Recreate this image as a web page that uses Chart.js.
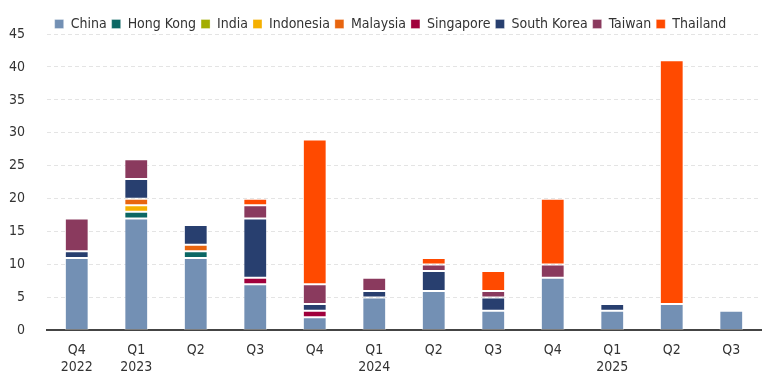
<!DOCTYPE html>
<html>
<head>
<meta charset="utf-8">
<script src="https://cdn.jsdelivr.net/npm/chart.js@4"></script>
<style>
  html, body { margin: 0; padding: 0; background: #fff; }
  #wrap { width: 767px; height: 385px; }
</style>
</head>
<body>
<div id="wrap"><canvas id="chart"></canvas></div>
<script>
// Quarters (tick labels, year shown on second line)
const quarters = [
    ["Q4", "2022"], ["Q1", "2023"], "Q2", "Q3", "Q4",
    ["Q1", "2024"], "Q2", "Q3", "Q4",
    ["Q1", "2025"], "Q2", "Q3"
];

// Counts per market, per quarter
const china      = [11, 17, 11, 7, 2, 5, 6, 3, 8, 3, 4, 3];
const hongKong   = [0, 1, 1, 0, 0, 0, 0, 0, 0, 0, 0, 0];
const india      = [0, 0, 0, 0, 0, 0, 0, 0, 0, 0, 0, 0];
const indonesia  = [0, 1, 0, 0, 0, 0, 0, 0, 0, 0, 0, 0];
const malaysia   = [0, 1, 1, 0, 0, 0, 0, 0, 0, 0, 0, 0];
const singapore  = [0, 0, 0, 1, 1, 0, 0, 0, 0, 0, 0, 0];
const southKorea = [1, 3, 3, 9, 1, 1, 3, 2, 0, 1, 0, 0];
const taiwan     = [5, 3, 0, 2, 3, 2, 1, 1, 2, 0, 0, 0];
const thailand   = [0, 0, 0, 1, 22, 0, 1, 3, 10, 0, 37, 0];

const yTicks = [0, 5, 10, 15, 20, 25, 30, 35, 40, 45];

const FONT = "'Liberation Sans Narrow', 'Arial Narrow', 'DejaVu Sans Condensed', sans-serif";

function series(label, data, color) {
    return {
        label: label,
        data: data,
        backgroundColor: color,
        borderColor: "rgba(255,255,255,0.3)",
        borderWidth: 1,
        borderSkipped: false,
        barPercentage: 0.4,
        categoryPercentage: 1.0,
    };
}

// tighten the gap under the legend and nudge it right
const legendTweak = {
    id: "legendTweak",
    beforeInit(chart) {
        const fit = chart.legend.fit;
        chart.legend.fit = function () {
            fit.bind(chart.legend)();
            this.height -= 7;
        };
    },
    afterLayout(chart) {
        chart.legend.left += 10;
        chart.legend.right += 10;
    },
};

document.addEventListener("DOMContentLoaded", () => {
    const ctx = document.getElementById("chart").getContext("2d");
    new Chart(ctx, {
        type: "bar",
        data: {
            labels: quarters,
            datasets: [
                series("China", china, "#7390b4"),
                series("Hong Kong", hongKong, "#0b6764"),
                series("India", india, "#a3ad00"),
                series("Indonesia", indonesia, "#f5b000"),
                series("Malaysia", malaysia, "#e8650f"),
                series("Singapore", singapore, "#a0003c"),
                series("South Korea", southKorea, "#283f6f"),
                series("Taiwan", taiwan, "#8a3a5e"),
                series("Thailand", thailand, "#ff4a00"),
            ],
        },
        plugins: [legendTweak],
        options: {
            responsive: true,
            maintainAspectRatio: false,
            animation: false,
            layout: { padding: { left: 0, right: 6, top: 12, bottom: -3 } },
            plugins: {
                legend: {
                    position: "top",
                    labels: {
                        boxWidth: 9,
                        boxHeight: 9,
                        padding: 5,
                        color: "#333",
                        font: { family: FONT, size: 14 },
                    },
                },
                tooltip: { enabled: false },
            },
            scales: {
                x: {
                    stacked: true,
                    grid: { display: false, drawTicks: false },
                    border: { display: true, color: "#444", width: 2 },
                    ticks: {
                        color: "#333",
                        padding: 12,
                        maxRotation: 0,
                        font: { family: FONT, size: 14 },
                    },
                },
                y: {
                    stacked: true,
                    min: yTicks[0],
                    max: yTicks[yTicks.length - 1],
                    afterBuildTicks: axis => {
                        axis.ticks = yTicks.map(v => ({ value: v }));
                    },
                    afterFit: axis => {
                        axis.width = 47;
                    },
                    grid: {
                        color: "#e4e4e4",
                        drawTicks: false,
                    },
                    border: { display: false, dash: [4, 3] },
                    ticks: {
                        color: "#333",
                        padding: 22,
                        font: { family: FONT, size: 14 },
                    },
                },
            },
        },
    });
});
</script>
</body>
</html>
